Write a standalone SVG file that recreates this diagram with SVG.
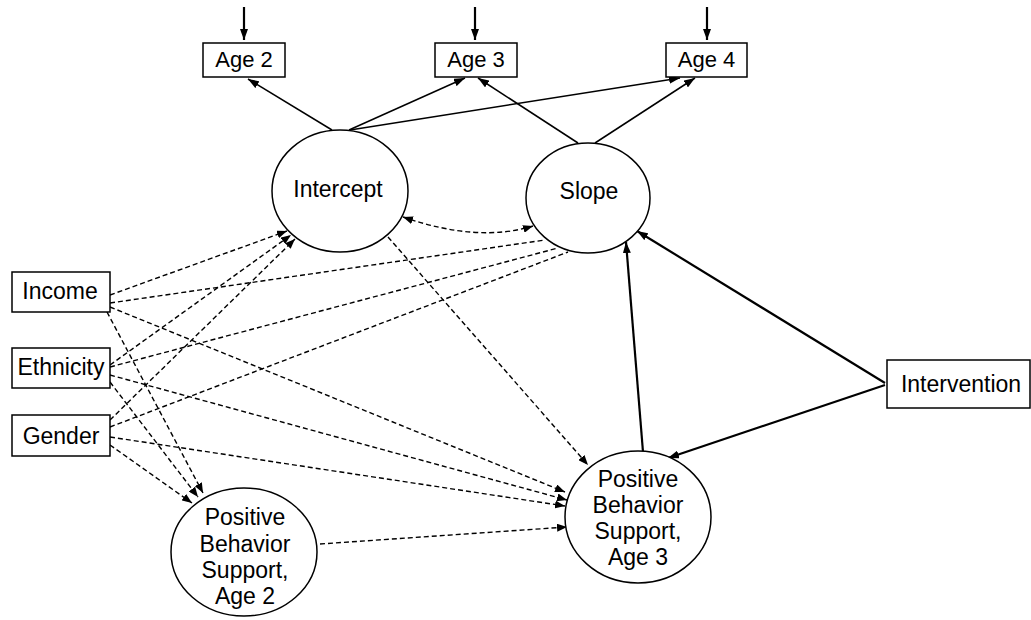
<svg xmlns="http://www.w3.org/2000/svg" width="1031" height="620" viewBox="0 0 1031 620">
<style>
text{font-family:"Liberation Sans",Arial,sans-serif;font-size:23px;fill:#000;text-anchor:middle}
.box{fill:#fff;stroke:#000;stroke-width:1.5}
.ell{fill:#fff;stroke:#000;stroke-width:1.5}
.s{fill:none;stroke:#000;stroke-width:1.5;marker-end:url(#ah)}
.v{fill:none;stroke:#000;stroke-width:2.2;marker-end:url(#ah)}
.t{fill:none;stroke:#000;stroke-width:2.2;marker-end:url(#ah)}
.d{fill:none;stroke:#000;stroke-width:1.4;stroke-dasharray:5 3;marker-end:url(#dh)}
.dn{fill:none;stroke:#000;stroke-width:1.4;stroke-dasharray:5 3}
</style>
<defs>
<marker id="ah" viewBox="0 0 11 8" refX="11" refY="4" markerWidth="11" markerHeight="8" markerUnits="userSpaceOnUse" orient="auto"><path d="M0,0 L11,4 L0,8 z" fill="#000"/></marker>
<marker id="dh" viewBox="0 0 10 8" refX="10" refY="4" markerWidth="10" markerHeight="8" markerUnits="userSpaceOnUse" orient="auto-start-reverse"><path d="M0,0 L10,4 L0,8 z" fill="#000"/></marker>
</defs>
<g id="connectors">
<line class="v" x1="244" y1="7" x2="244" y2="40"/>
<line class="v" x1="475" y1="7" x2="475" y2="40"/>
<line class="v" x1="707" y1="7" x2="707" y2="40"/>
<line class="s" x1="332" y1="130" x2="248" y2="79"/>
<line class="s" x1="349" y1="130" x2="465" y2="78"/>
<line class="s" x1="350" y1="130" x2="680" y2="78"/>
<line class="s" x1="578" y1="143" x2="478" y2="78"/>
<line class="s" x1="595" y1="143" x2="695" y2="78"/>
<line class="t" x1="885" y1="383" x2="637" y2="231"/>
<line class="t" x1="885" y1="385" x2="668" y2="458"/>
<line class="t" x1="643" y1="452" x2="626" y2="242"/>
<path class="d" d="M403,217 Q478,243 533,226" marker-start="url(#dh)"/>
<line class="d" x1="388" y1="237" x2="588" y2="465"/>
<line class="d" x1="320" y1="544" x2="567" y2="527"/>
<line class="d" x1="110" y1="295" x2="287" y2="231"/>
<line class="dn" x1="110" y1="303" x2="545" y2="240"/>
<line class="d" x1="110" y1="307" x2="565" y2="492"/>
<line class="d" x1="107" y1="312" x2="203" y2="493"/>
<line class="d" x1="110" y1="365" x2="291" y2="235"/>
<line class="dn" x1="110" y1="367" x2="558" y2="248"/>
<line class="d" x1="110" y1="375" x2="567" y2="500"/>
<line class="d" x1="110" y1="382" x2="198" y2="497"/>
<line class="d" x1="110" y1="420" x2="295" y2="239"/>
<line class="dn" x1="110" y1="427" x2="568" y2="252"/>
<line class="d" x1="110" y1="437" x2="565" y2="506"/>
<line class="d" x1="110" y1="445" x2="192" y2="503"/>
</g>
<g id="age2"><rect class="box" x="203" y="43" width="82" height="34"/><text x="244" y="67" style="font-size:22px">Age 2</text></g>
<g id="age3"><rect class="box" x="435" y="43" width="82" height="34"/><text x="476" y="67" style="font-size:22px">Age 3</text></g>
<g id="age4"><rect class="box" x="666" y="43" width="81" height="34"/><text x="706.5" y="67" style="font-size:22px">Age 4</text></g>
<g id="intercept"><ellipse class="ell" cx="340" cy="191" rx="68" ry="61"/><text x="338" y="197">Intercept</text></g>
<g id="slope"><ellipse class="ell" cx="588" cy="198" rx="62" ry="55"/><text x="589" y="199">Slope</text></g>
<g id="income"><rect class="box" x="12" y="272" width="98" height="40"/><text x="60" y="299">Income</text></g>
<g id="ethnicity"><rect class="box" x="12" y="348" width="98" height="40"/><text x="61" y="375">Ethnicity</text></g>
<g id="gender"><rect class="box" x="12" y="415" width="98" height="41"/><text x="61" y="444">Gender</text></g>
<g id="intervention"><rect class="box" x="887" y="360" width="143" height="48"/><text x="961" y="392">Intervention</text></g>
<g id="pbs2"><ellipse class="ell" cx="244" cy="552" rx="73" ry="64"/><text x="245" y="525">Positive</text><text x="245" y="551.5">Behavior</text><text x="245" y="578">Support,</text><text x="245" y="604">Age 2</text></g>
<g id="pbs3"><ellipse class="ell" cx="638" cy="517" rx="73" ry="66"/><text x="638" y="487">Positive</text><text x="638" y="512.5">Behavior</text><text x="638" y="538.5">Support,</text><text x="638" y="565">Age 3</text></g>
</svg>
